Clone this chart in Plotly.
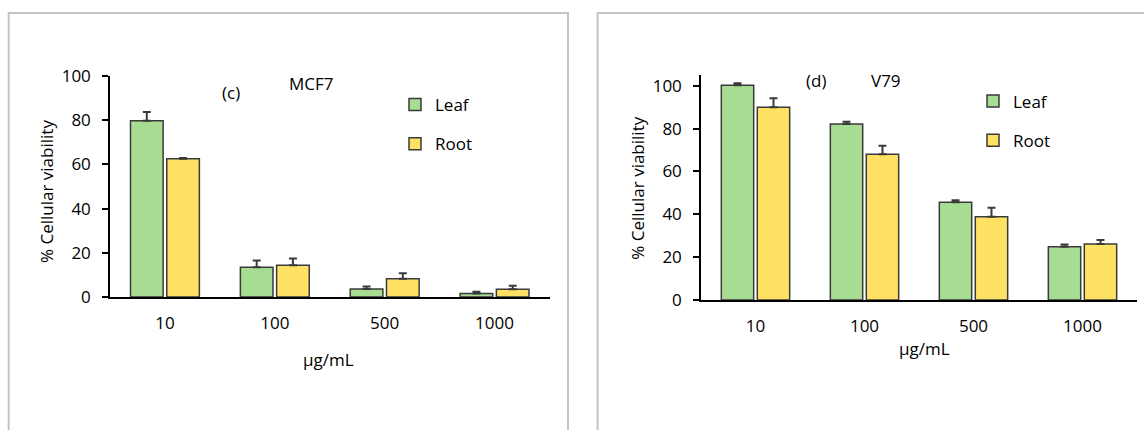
import plotly.graph_objects as go

# ---------------- data ----------------
concentrations = ["10", "100", "500", "1000"]

mcf7_leaf = [79.7, 13.5, 3.6, 1.6]
mcf7_leaf_err = [4.0, 3.0, 1.1, 0.8]
mcf7_root = [62.6, 14.4, 8.3, 3.5]
mcf7_root_err = [0.3, 3.0, 2.4, 1.6]

v79_leaf = [100.2, 82.1, 45.6, 24.9]
v79_leaf_err = [1.0, 1.1, 1.0, 1.0]
v79_root = [89.9, 68.0, 38.9, 26.1]
v79_root_err = [4.3, 4.0, 4.2, 1.9]

y_ticks = [0, 20, 40, 60, 80, 100]
series_names = ["Leaf", "Root"]
# --------------------------------------

W, H = 1144, 430
FONT = "Open Sans"
GREEN = "#a6dd93"
YELLOW = "#ffe264"
OUTLINE = "#3a3a3a"


def px(x):
    return x / W


def py(y):
    return (H - y) / H


fig = go.Figure()


def add_bar(x, y, err, name, color, xa, ya, legend, group):
    fig.add_trace(go.Bar(
        x=x, y=y, name=name, xaxis=xa, yaxis=ya, legend=legend,
        legendgroup=group,
        marker=dict(color=color, line=dict(color=OUTLINE, width=1.5)),
        error_y=dict(type="data", array=err, symmetric=False,
                     arrayminus=[0] * len(err), color=OUTLINE,
                     thickness=2, width=4),
    ))


add_bar(concentrations, mcf7_leaf, mcf7_leaf_err, series_names[0], GREEN, "x", "y", "legend", "l1")
add_bar(concentrations, mcf7_root, mcf7_root_err, series_names[1], YELLOW, "x", "y", "legend", "l2")
add_bar(concentrations, v79_leaf, v79_leaf_err, series_names[0], GREEN, "x2", "y2", "legend2", "r1")
add_bar(concentrations, v79_root, v79_root_err, series_names[1], YELLOW, "x2", "y2", "legend2", "r2")

axis_common = dict(showline=True, linecolor="#000", linewidth=1.5,
                   showgrid=False, zeroline=False, automargin=False,
                   tickfont=dict(family=FONT, size=17, color="#000"))

fig.update_layout(
    width=W, height=H, autosize=False,
    margin=dict(l=0, r=0, t=0, b=0, pad=0, autoexpand=False),
    paper_bgcolor="white", plot_bgcolor="white",
    font=dict(family=FONT, size=17, color="#000"),
    barmode="group", bargap=0.34, bargroupgap=0.1,
    xaxis=dict(domain=[px(110), px(549.5)], anchor="y",
               ticks="", ticklabelstandoff=10, **axis_common),
    yaxis=dict(domain=[py(297), py(76)], anchor="x", range=[0, 100],
               tickvals=y_ticks, ticks="outside", ticklen=6, tickwidth=1.5,
               tickcolor="#000", ticklabelstandoff=8, **axis_common),
    xaxis2=dict(domain=[px(701), px(1137)], anchor="y2",
                ticks="", ticklabelstandoff=10, **axis_common),
    yaxis2=dict(domain=[py(300), py(75)], anchor="x2", range=[0, 105],
                tickvals=y_ticks, ticks="outside", ticklen=6, tickwidth=1.5,
                tickcolor="#000", ticklabelstandoff=8, **axis_common),
    legend=dict(x=px(395), y=py(87), xanchor="left", yanchor="top",
                font=dict(family=FONT, size=17, color="#000"),
                bgcolor="rgba(0,0,0,0)", traceorder="grouped",
                tracegroupgap=14),
    legend2=dict(x=px(973), y=py(83.5), xanchor="left", yanchor="top",
                 font=dict(family=FONT, size=17, color="#000"),
                 bgcolor="rgba(0,0,0,0)", traceorder="grouped",
                 tracegroupgap=14),
)

# panel frames
for x0, x1 in [(8.7, 568), (597.6, 1160)]:
    fig.add_shape(type="rect", xref="paper", yref="paper",
                  x0=px(x0), x1=px(x1), y0=-0.1, y1=py(13),
                  line=dict(color="#c4c4c4", width=2), fillcolor="rgba(0,0,0,0)",
                  layer="below")

ann = dict(xref="paper", yref="paper", showarrow=False,
           xanchor="center", yanchor="middle",
           font=dict(family=FONT, size=17, color="#000"))
fig.add_annotation(text="(c)", x=px(231), y=py(92), **ann)
fig.add_annotation(text="MCF7", x=px(311.6), y=py(83.5), **ann)
fig.add_annotation(text="(d)", x=px(815.6), y=py(80), **ann)
fig.add_annotation(text="V79", x=px(885.7), y=py(80), **ann)
fig.add_annotation(text="μg/mL", x=px(328), y=py(359), **ann)
fig.add_annotation(text="μg/mL", x=px(924), y=py(348), **ann)
fig.add_annotation(text="% Cellular viability", x=px(46.5), y=py(191.5),
                   textangle=-90, **ann)
fig.add_annotation(text="% Cellular viability", x=px(636.7), y=py(188),
                   textangle=-90, **ann)

fig.write_html("out.html",
               config={"displayModeBar": False},
               post_script="document.body.style.margin='0';"
                           "document.body.style.overflow='hidden';")
